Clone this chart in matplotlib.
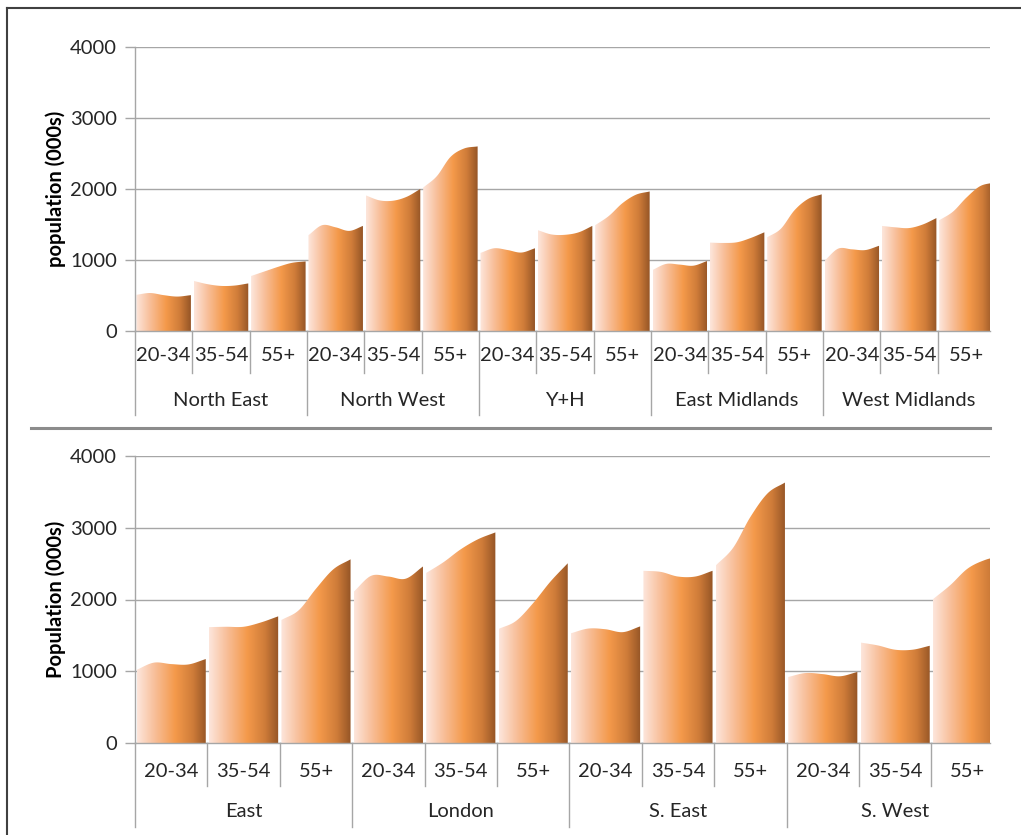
import numpy as np
import matplotlib
matplotlib.use("Agg")
import matplotlib.pyplot as plt
from matplotlib.colors import LinearSegmentedColormap
from matplotlib.patches import Polygon
from matplotlib.lines import Line2D

plt.rcParams['font.family'] = ['Lato', 'DejaVu Sans']

# ---- data: population (000s), five readings across each age band ----
ages = ["20-34", "35-54", "55+"]

regions_top = ["North East", "North West", "Y+H", "East Midlands", "West Midlands"]
north_east = [[510, 535, 505, 485, 505], [705, 660, 635, 640, 670], [775, 840, 905, 960, 980]]
north_west = [[1350, 1490, 1460, 1410, 1480], [1910, 1840, 1835, 1890, 2000], [2020, 2180, 2450, 2570, 2600]]
yorks_humber = [[1100, 1165, 1140, 1105, 1165], [1420, 1360, 1355, 1390, 1480], [1490, 1620, 1800, 1920, 1965]]
east_midlands = [[860, 945, 935, 920, 985], [1245, 1240, 1250, 1310, 1390], [1320, 1440, 1700, 1860, 1925]]
west_midlands = [[990, 1160, 1150, 1140, 1200], [1480, 1460, 1450, 1500, 1590], [1560, 1680, 1880, 2040, 2090]]

regions_bottom = ["East", "London", "S. East", "S. West"]
east = [[1020, 1120, 1100, 1095, 1170], [1615, 1620, 1620, 1680, 1765], [1715, 1850, 2150, 2420, 2560]]
london = [[2110, 2330, 2320, 2290, 2460], [2370, 2520, 2700, 2840, 2935], [1590, 1700, 1950, 2250, 2505]]
south_east = [[1530, 1595, 1585, 1545, 1625], [2400, 2385, 2320, 2320, 2400], [2475, 2720, 3150, 3480, 3630]]
south_west = [[920, 975, 960, 930, 990], [1400, 1360, 1300, 1300, 1355], [2005, 2200, 2430, 2550, 2610]]

top_data = [north_east, north_west, yorks_humber, east_midlands, west_midlands]
bottom_data = [east, london, south_east, south_west]

yticks = [0, 1000, 2000, 3000, 4000]

# orange column gradient, light on the left to dark brown on the right
grad = LinearSegmentedColormap.from_list(
    "orange_grad",
    [(0.0, "#fde6dc"), (0.25, "#f8bf9a"), (0.55, "#f4994a"),
     (0.8, "#cf7c39"), (1.0, "#955526")])
grad_img = np.linspace(0, 1, 256).reshape(1, -1)

W, H = 1021, 835
fig = plt.figure(figsize=(W / 100, H / 100), dpi=100)

GRID = "#a6a6a6"
TXT = "#262626"
FS = 14.5


def smooth(xs, ys, per=24):
    """Catmull-Rom curve through the points."""
    p = np.column_stack([xs, ys]).astype(float)
    p = np.vstack([p[0] - (p[1] - p[0]), p, p[-1] + (p[-1] - p[-2])])
    out = []
    t = np.linspace(0, 1, per, endpoint=False)[:, None]
    for i in range(1, len(p) - 2):
        p0, p1, p2, p3 = p[i - 1], p[i], p[i + 1], p[i + 2]
        seg = 0.5 * ((2 * p1) + (-p0 + p2) * t + (2 * p0 - 5 * p1 + 4 * p2 - p3) * t ** 2
                     + (-p0 + 3 * p1 - 3 * p2 + p3) * t ** 3)
        out.append(seg)
    out.append(p[-2][None, :])
    return np.vstack(out)


def draw_panel(rect, regions, data, ylabel, xmax, gap):
    x0, y0, x1, y1 = rect
    ax = fig.add_axes([x0 / W, 1 - y1 / H, (x1 - x0) / W, (y1 - y0) / H])
    ax.set_xlim(-0.5, xmax)
    ax.set_ylim(0, 4000)
    ax.set_yticks(yticks)
    ax.set_yticklabels([str(v) for v in yticks], fontsize=FS, color=TXT)
    ax.set_xticks([])
    for s in ("top", "right"):
        ax.spines[s].set_visible(False)
    ax.spines["left"].set_color(GRID)
    ax.spines["bottom"].set_color(GRID)
    ax.spines["left"].set_linewidth(1.0)
    ax.spines["bottom"].set_linewidth(1.0)
    ax.tick_params(axis="y", length=7, width=1, color=GRID, pad=6)
    ax.yaxis.grid(True, color=GRID, linewidth=1.0)
    ax.set_axisbelow(True)
    ax.set_ylabel(ylabel, fontsize=FS, fontweight="bold", color="black", labelpad=3)

    col = 0
    for r, region in enumerate(data):
        for a, vals in enumerate(region):
            left, right = col - 0.5 + gap / 2, col + 0.5 - gap / 2
            xs = np.linspace(left, right, len(vals))
            curve = smooth(xs, vals)
            verts = np.vstack([[left, 0], curve, [right, 0]])
            poly = Polygon(verts, closed=True, transform=ax.transData,
                           facecolor="none", edgecolor="none")
            im = ax.imshow(grad_img, cmap=grad, aspect="auto",
                           extent=[left, right, 0, max(vals) + 50],
                           interpolation="bilinear", zorder=2)
            im.set_clip_path(poly)
            col += 1
    ax.set_xlim(-0.5, xmax)
    ax.set_ylim(0, 4000)
    return ax


def category_axis(ax, regions, age_y, age_sep, reg_y, reg_sep):
    trans = ax.get_xaxis_transform()
    n = len(regions) * len(ages)
    xmax = ax.get_xlim()[1]
    for i in range(n):
        ax.text(i, age_y, ages[i % 3], transform=trans, ha="center", va="center",
                fontsize=FS, color=TXT, clip_on=False)
    for b in range(n + 1):
        xb = b - 0.5
        if xb > xmax:
            continue
        bottom = reg_sep if b % 3 == 0 else age_sep
        ax.add_line(Line2D([xb, xb], [0, bottom], transform=trans, color=GRID,
                           linewidth=1.0, clip_on=False))
    for r, name in enumerate(regions):
        ax.text(3 * r + 1, reg_y, name, transform=trans, ha="center", va="center",
                fontsize=FS, color=TXT, clip_on=False)


ax_top = draw_panel((135, 47, 990, 331), regions_top, top_data,
                    "population (000s)", 14.41, 0.05)
category_axis(ax_top, regions_top, -0.085, -0.148, -0.243, -0.296)

ax_bot = draw_panel((135, 456, 990, 743), regions_bottom, bottom_data,
                    "Population (000s)", 11.31, 0.045)
category_axis(ax_bot, regions_bottom, -0.101, -0.15, -0.24, -0.293)

# outer frame (top and left edges) and divider between the two panels
fig.add_artist(Line2D([7 / W, 1.0], [1 - 8 / H, 1 - 8 / H], color="#404040", linewidth=1.5))
fig.add_artist(Line2D([7 / W, 7 / W], [1 - 8 / H, 0.0], color="#404040", linewidth=1.5))
fig.add_artist(Line2D([31 / W, 990 / W], [1 - 428 / H, 1 - 428 / H], color="#8c8c8c", linewidth=2.2))

fig.savefig("out.png", dpi=100, facecolor="white")
